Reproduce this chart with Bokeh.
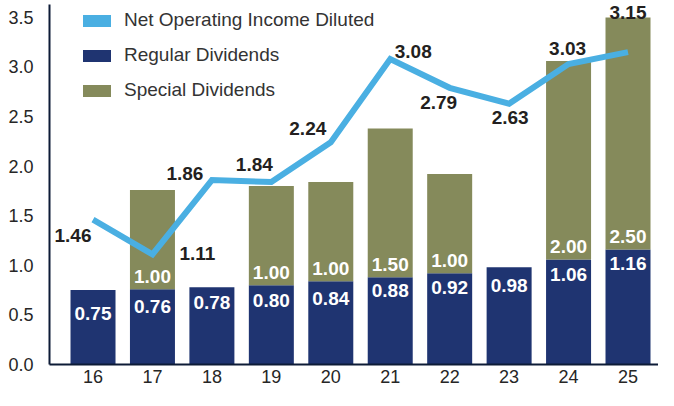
from bokeh.plotting import figure
from bokeh.models import (Range1d, FixedTicker, PrintfTickFormatter, Legend,
                          LegendItem, ColumnDataSource)
from bokeh.core.properties import value
from bokeh.embed import file_html
from bokeh.resources import INLINE
import numpy as np

# ---------------- data ----------------
YEARS = [16, 17, 18, 19, 20, 21, 22, 23, 24, 25]
REGULAR = [0.75, 0.76, 0.78, 0.80, 0.84, 0.88, 0.92, 0.98, 1.06, 1.16]
SPECIAL = [0.0, 1.00, 0.0, 1.00, 1.00, 1.50, 1.00, 0.0, 2.00, 2.50]
NOI = [1.46, 1.11, 1.86, 1.84, 2.24, 3.08, 2.79, 2.63, 3.03, 3.15]
Y_TICKS = [0.0, 0.5, 1.0, 1.5, 2.0, 2.5, 3.0, 3.5]
AXIS_MAX = 3.5
SERIES = ["Net Operating Income Diluted", "Regular Dividends", "Special Dividends"]

# ---------------- styles (label offsets in screen px) ----------------
NOI_DX = [-20, 45, -27, -17, -23, 23, -11, 1, -1, 0]
NOI_DY = [16, -1, -7, -18, -14, -8, 15, 14, -16, -40]
REG_DY = [23, 17, 15, 15, 17, 13, 14, 18, 15, 14]
SPEC_DY = -13

NAVY = "#1F3471"
OLIVE = "#858A5B"
BLUE = "#4AAFE2"
AXIS_C = "#0D1B36"
TXT = "#231F20"
FONT = "Liberation Sans"

reg = np.array(REGULAR)
spec = np.array(SPECIAL)
has_spec = spec > 0

p = figure(width=658, height=390, output_backend="svg", toolbar_location=None,
           x_range=Range1d(15.268, 25.513), y_range=Range1d(0, 3.63),
           min_border_left=49, min_border_right=0, min_border_top=4,
           min_border_bottom=26)
p.outline_line_color = None
p.xgrid.visible = False
p.ygrid.visible = False
p.background_fill_color = "white"
p.border_fill_color = "white"

# bars
reg_src = ColumnDataSource(dict(x=YEARS, top=REGULAR))
r_reg = p.vbar(x="x", top="top", bottom=0, width=0.757, source=reg_src,
               fill_color=NAVY, line_color=None)
spec_src = ColumnDataSource(dict(
    x=[y for y, h in zip(YEARS, has_spec) if h],
    bottom=reg[has_spec],
    top=np.minimum(reg[has_spec] + spec[has_spec], AXIS_MAX)))
r_spec = p.vbar(x="x", top="top", bottom="bottom", width=0.757, source=spec_src,
                fill_color=OLIVE, line_color=None)

# line
p.line(YEARS, NOI, line_color=BLUE, line_width=6, line_join="miter")
# zero-height proxy used only for the square legend swatch of the line
r_noi_leg = p.vbar(x=YEARS[:1], top=NOI[:1], bottom=NOI[:1], width=0.5,
                   fill_color=BLUE, line_color=None)

# labels
p.text(x=YEARS, y=NOI, text=[f"{v:.2f}" for v in NOI], x_offset=NOI_DX,
       y_offset=NOI_DY, text_align="center", text_baseline="middle",
       text_font=value(FONT), text_font_style="bold", text_font_size="19px",
       text_color=TXT)
p.text(x=YEARS, y=REGULAR, text=[f"{v:.2f}" for v in REGULAR],
       y_offset=REG_DY, text_align="center", text_baseline="middle",
       text_font=value(FONT), text_font_style="bold", text_font_size="19px",
       text_color="white")
p.text(x=spec_src.data["x"], y=spec_src.data["bottom"],
       text=[f"{v:.2f}" for v in spec[has_spec]], y_offset=SPEC_DY,
       text_align="center", text_baseline="middle", text_font=value(FONT),
       text_font_style="bold", text_font_size="19px", text_color="white")

# axes
for ax in (p.xaxis[0], p.yaxis[0]):
    ax.axis_line_color = AXIS_C
    ax.axis_line_width = 2
    ax.major_tick_line_color = None
    ax.minor_tick_line_color = None
    ax.major_tick_out = 0
    ax.major_tick_in = 0
    ax.minor_tick_out = 0
    ax.minor_tick_in = 0
    ax.major_label_text_font = FONT
    ax.major_label_text_font_size = "18px"
    ax.major_label_text_color = "#262626"
p.xaxis.ticker = FixedTicker(ticks=YEARS)
p.xaxis.major_label_standoff = 5
p.yaxis.ticker = FixedTicker(ticks=Y_TICKS)
p.yaxis.formatter = PrintfTickFormatter(format="%.1f")
p.yaxis.major_label_standoff = 16

legend = Legend(items=[LegendItem(label=SERIES[0], renderers=[r_noi_leg]),
                       LegendItem(label=SERIES[1], renderers=[r_reg]),
                       LegendItem(label=SERIES[2], renderers=[r_spec])],
                location=(30, 263), orientation="vertical",
                glyph_width=35, glyph_height=15, label_standoff=10,
                spacing=13, padding=0, margin=0,
                label_text_font=FONT, label_text_font_size="19px",
                label_text_color="#333333",
                border_line_alpha=0, background_fill_alpha=0)
p.add_layout(legend, "center")

open("out.html", "w").write(file_html(p, INLINE))
